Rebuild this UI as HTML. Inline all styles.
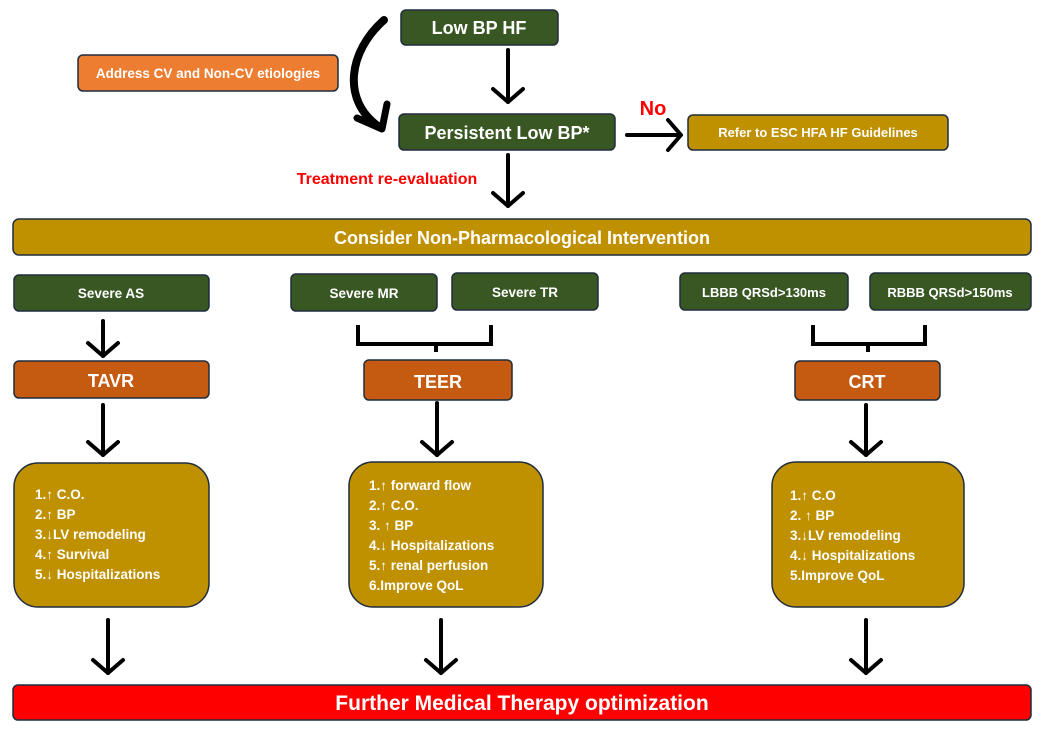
<!DOCTYPE html>
<html><head><meta charset="utf-8"><style>
html,body{margin:0;padding:0;background:#fff;width:1050px;height:738px;overflow:hidden}
svg text{font-family:"Liberation Sans",sans-serif;font-weight:bold}
</style></head><body>
<svg width="1050" height="738" viewBox="0 0 1050 738" xmlns="http://www.w3.org/2000/svg">
<defs>
<g id="ah"><path d="M-15,-13 L0,0 L15,-13" fill="none" stroke="#000" stroke-width="4" stroke-linecap="round" stroke-linejoin="round"/></g>
</defs>
<g stroke="#1f2d3d" stroke-width="1.5">
<rect x="401" y="10" width="157" height="35" rx="5" fill="#385723"/>
<rect x="78" y="55" width="260" height="36" rx="5" fill="#ed7d31"/>
<rect x="399" y="114" width="216" height="36" rx="5" fill="#385723"/>
<rect x="688" y="115" width="260" height="35" rx="5" fill="#bf9000"/>
<rect x="13" y="219" width="1018" height="36" rx="6" fill="#bf9000"/>
<rect x="14" y="275" width="195" height="36" rx="5" fill="#385723"/>
<rect x="291" y="274" width="146" height="37" rx="5" fill="#385723"/>
<rect x="452" y="273" width="146" height="37" rx="5" fill="#385723"/>
<rect x="680" y="273" width="168" height="37" rx="5" fill="#385723"/>
<rect x="870" y="273" width="161" height="37" rx="5" fill="#385723"/>
<rect x="14" y="361" width="195" height="37" rx="5" fill="#c55a11"/>
<rect x="364" y="360" width="148" height="40" rx="5" fill="#c55a11"/>
<rect x="795" y="361" width="145" height="39" rx="5" fill="#c55a11"/>
<rect x="14" y="463" width="195" height="144" rx="24" fill="#bf9000"/>
<rect x="349" y="462" width="194" height="145" rx="24" fill="#bf9000"/>
<rect x="772" y="462" width="192" height="145" rx="24" fill="#bf9000"/>
<rect x="13" y="685" width="1018" height="35" rx="5" fill="#ff0000"/>
</g>
<g fill="#fff" text-anchor="middle">
<text x="479" y="34" font-size="18">Low BP HF</text>
<text x="208" y="78" font-size="13.5">Address CV and Non-CV etiologies</text>
<text x="507" y="139" font-size="18">Persistent Low BP*</text>
<text x="818" y="137" font-size="13">Refer to ESC HFA HF Guidelines</text>
<text x="522" y="244" font-size="18">Consider Non-Pharmacological Intervention</text>
<text x="111" y="298" font-size="13.5">Severe AS</text>
<text x="364" y="298" font-size="13.5">Severe MR</text>
<text x="525" y="297" font-size="13.5">Severe TR</text>
<text x="764" y="297" font-size="13">LBBB QRSd&gt;130ms</text>
<text x="950" y="297" font-size="13">RBBB QRSd&gt;150ms</text>
<text x="111" y="387" font-size="18">TAVR</text>
<text x="438" y="388" font-size="18">TEER</text>
<text x="867" y="388" font-size="18">CRT</text>
<text x="522" y="710" font-size="21">Further Medical Therapy optimization</text>
</g>
<g fill="#fff" font-size="13.5">
<text x="35" y="499">1.↑ C.O.</text>
<text x="35" y="519">2.↑ BP</text>
<text x="35" y="539">3.↓LV remodeling</text>
<text x="35" y="559">4.↑ Survival</text>
<text x="35" y="579">5.↓ Hospitalizations</text>
<text x="369" y="490">1.↑ forward flow</text>
<text x="369" y="510">2.↑ C.O.</text>
<text x="369" y="530">3. ↑ BP</text>
<text x="369" y="550">4.↓ Hospitalizations</text>
<text x="369" y="570">5.↑ renal perfusion</text>
<text x="369" y="590">6.Improve QoL</text>
<text x="790" y="500">1.↑ C.O</text>
<text x="790" y="520">2. ↑ BP</text>
<text x="790" y="540">3.↓LV remodeling</text>
<text x="790" y="560">4.↓ Hospitalizations</text>
<text x="790" y="580">5.Improve QoL</text>
</g>
<text x="653" y="115" font-size="20" fill="#ff0000" text-anchor="middle">No</text>
<text x="387" y="184" font-size="16" fill="#ff0000" text-anchor="middle">Treatment re-evaluation</text>
<g stroke="#000" stroke-width="4" fill="none" stroke-linecap="round">
<line x1="508" y1="50" x2="508" y2="102"/>
<line x1="508" y1="155" x2="508" y2="206"/>
<line x1="627" y1="135" x2="680" y2="135"/>
<line x1="103" y1="321" x2="103" y2="356"/>
<line x1="103" y1="405" x2="103" y2="455"/>
<line x1="437" y1="403" x2="437" y2="455"/>
<line x1="866" y1="405" x2="866" y2="455"/>
<line x1="108" y1="620" x2="108" y2="673"/>
<line x1="441" y1="620" x2="441" y2="673"/>
<line x1="866" y1="620" x2="866" y2="673"/>
<path d="M358,325 V344 H491 V325 M436,344 V352" stroke-linecap="butt"/>
<path d="M813,325 V344 H925 V325 M868,344 V352" stroke-linecap="butt"/>
<path d="M384,20 C348,52 342,100 378,126" stroke-width="8"/>
<path d="M357,118 L382,129 L387,104" stroke-width="7" stroke-linejoin="round"/>
</g>
<use href="#ah" x="508" y="102"/>
<use href="#ah" x="508" y="206"/>
<use href="#ah" x="103" y="356"/>
<use href="#ah" x="103" y="455"/>
<use href="#ah" x="437" y="455"/>
<use href="#ah" x="866" y="455"/>
<use href="#ah" x="108" y="673"/>
<use href="#ah" x="441" y="673"/>
<use href="#ah" x="866" y="673"/>
<use href="#ah" transform="translate(681,135) rotate(-90)"/>
</svg>
</body></html>
